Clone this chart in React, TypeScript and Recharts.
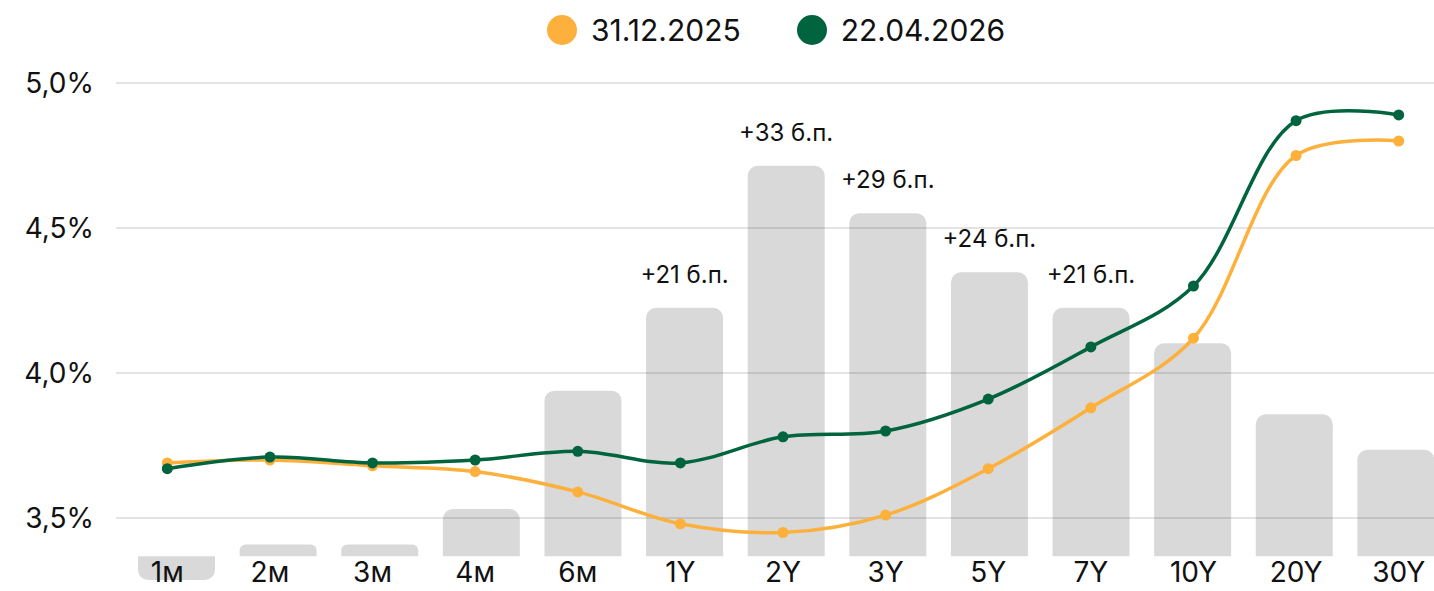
import { ComposedChart, Bar, Line, XAxis, YAxis, CartesianGrid, Legend, LabelList } from 'recharts';

const terms = ['1м', '2м', '3м', '4м', '6м', '1Y', '2Y', '3Y', '5Y', '7Y', '10Y', '20Y', '30Y'];
const ratesDec = [3.69, 3.7, 3.68, 3.66, 3.59, 3.48, 3.45, 3.51, 3.67, 3.88, 4.12, 4.75, 4.8];
const ratesApr = [3.67, 3.71, 3.69, 3.7, 3.73, 3.69, 3.78, 3.8, 3.91, 4.09, 4.3, 4.87, 4.89];
const spreadBp = [-2, 1, 1, 4, 14, 21, 33, 29, 24, 21, 18, 12, 9];
const spreadLabels = ['', '', '', '', '', '+21 б.п.', '+33 б.п.', '+29 б.п.', '+24 б.п.', '+21 б.п.', '', '', ''];
const rateTicks = [3.5, 4, 4.5, 5];

const seriesNames = ['31.12.2025', '22.04.2026'];
const ORANGE = '#FDB03B';
const GREEN = '#00643F';
const FONT = 'Inter, "Noto Sans", sans-serif';

const rows = terms.map((term, i) => ({
  term,
  dec: ratesDec[i],
  apr: ratesApr[i],
  spread: spreadBp[i],
}));

// centripetal catmull-rom (alpha 0.5), d3 curve factory interface
const smoothCurve = (context: any) => {
  let pts: [number, number][] = [];
  const dist = (a: [number, number], b: [number, number]) => Math.hypot(b[0] - a[0], b[1] - a[1]);
  return {
    areaStart() {},
    areaEnd() {},
    lineStart() {
      pts = [];
    },
    point(x: number, y: number) {
      pts.push([+x, +y]);
    },
    lineEnd() {
      const n = pts.length;
      if (!n) return;
      context.moveTo(pts[0][0], pts[0][1]);
      for (let i = 0; i < n - 1; i++) {
        const p0 = i > 0 ? pts[i - 1] : null;
        const p1 = pts[i];
        const p2 = pts[i + 1];
        const p3 = i + 2 < n ? pts[i + 2] : null;
        const l12_2a = dist(p1, p2);
        const l12_a = Math.sqrt(l12_2a);
        let c1: [number, number] = [p1[0], p1[1]];
        let c2: [number, number] = [p2[0], p2[1]];
        if (p0) {
          const l01_2a = dist(p0, p1);
          const l01_a = Math.sqrt(l01_2a);
          if (l01_a > 1e-6) {
            const a = 2 * l01_2a + 3 * l01_a * l12_a + l12_2a;
            const m = 3 * l01_a * (l01_a + l12_a);
            c1 = [
              (p1[0] * a - p0[0] * l12_2a + p2[0] * l01_2a) / m,
              (p1[1] * a - p0[1] * l12_2a + p2[1] * l01_2a) / m,
            ];
          }
        }
        if (p3) {
          const l23_2a = dist(p2, p3);
          const l23_a = Math.sqrt(l23_2a);
          if (l23_a > 1e-6) {
            const b = 2 * l23_2a + 3 * l23_a * l12_a + l12_2a;
            const m = 3 * l23_a * (l23_a + l12_a);
            c2 = [
              (p2[0] * b + p1[0] * l23_2a - p3[0] * l12_2a) / m,
              (p2[1] * b + p1[1] * l23_2a - p3[1] * l12_2a) / m,
            ];
          }
        }
        context.bezierCurveTo(c1[0], c1[1], c2[0], c2[1], p2[0], p2[1]);
      }
    },
  };
};

function LegendRow() {
  const colors = [ORANGE, GREEN];
  return (
    <div style={{ height: 83, position: 'relative', fontFamily: FONT }}>
      <div style={{ position: 'absolute', left: 547, top: 15, display: 'flex', alignItems: 'center' }}>
        {seriesNames.map((name, i) => (
          <div key={name} style={{ display: 'flex', alignItems: 'center', marginRight: 56 }}>
            <span style={{ width: 30, height: 30, borderRadius: 15, background: colors[i], display: 'inline-block' }} />
            <span style={{ marginLeft: 14, fontSize: 30, lineHeight: '30px', color: '#111' }}>{name}</span>
          </div>
        ))}
      </div>
    </div>
  );
}

function TermTick({ x, y, payload }: any) {
  return (
    <text x={x} y={y - 18} dy="0.71em" textAnchor="middle" fontSize={28} fill="#111" fontFamily={FONT}>
      {payload.value}
    </text>
  );
}

function SpreadLabel({ x, y, width, index }: any) {
  const text = spreadLabels[index];
  if (!text) return null;
  return (
    <text x={x + width / 2} y={y - 25} textAnchor="middle" fontSize={24} fill="#111" fontFamily={FONT}>
      {text}
    </text>
  );
}

export default function App() {
  return (
    <div
      style={{
        position: 'absolute',
        left: 0,
        top: 0,
        width: 1434,
        height: 591,
        overflow: 'hidden',
        background: '#fff',
        fontFamily: FONT,
      }}
    >
      <ComposedChart width={1451} height={591} data={rows} margin={{ top: 0, right: 1, bottom: 0, left: 0 }}>
        <CartesianGrid vertical={false} stroke="#c8c8c8" yAxisId="rate" xAxisId="line" syncWithTicks />
        <XAxis
          xAxisId="line"
          dataKey="term"
          axisLine={false}
          tickLine={false}
          tickSize={0}
          tickMargin={0}
          height={11}
          interval={0}
          tick={<TermTick />}
        />
        <XAxis xAxisId="bar" dataKey="term" orientation="top" height={0} hide padding={{ left: 10, right: 3 }} />
        <YAxis
          yAxisId="rate"
          type="number"
          domain={[3.2862, 5]}
          ticks={rateTicks}
          width={116}
          axisLine={false}
          tickLine={false}
          tickSize={0}
          tickMargin={22}
          tick={{ fontSize: 28, fill: '#111', fontFamily: FONT }}
          tickFormatter={(v: number) => v.toFixed(1).replace('.', ',') + '%'}
        />
        <YAxis yAxisId="bp" orientation="right" type="number" domain={[-2, 40]} hide />
        <Legend verticalAlign="top" align="left" wrapperStyle={{ left: 0, top: 0, width: 1451, height: 83 }} content={() => <LegendRow />} />
        <Bar
          xAxisId="bar"
          yAxisId="bp"
          dataKey="spread"
          barSize={77}
          fill="#000"
          fillOpacity={0.15}
          radius={[10, 10, 0, 0]}
          legendType="none"
          isAnimationActive={false}
        >
          <LabelList dataKey="spread" content={<SpreadLabel />} />
        </Bar>
        <Line
          xAxisId="line"
          yAxisId="rate"
          dataKey="dec"
          name={seriesNames[0]}
          type={smoothCurve as any}
          stroke={ORANGE}
          strokeWidth={3.5}
          dot={{ r: 5.5, fill: ORANGE, stroke: ORANGE, strokeWidth: 0 }}
          activeDot={false}
          isAnimationActive={false}
        />
        <Line
          xAxisId="line"
          yAxisId="rate"
          dataKey="apr"
          name={seriesNames[1]}
          type={smoothCurve as any}
          stroke={GREEN}
          strokeWidth={3.5}
          dot={{ r: 5.5, fill: GREEN, stroke: GREEN, strokeWidth: 0 }}
          activeDot={false}
          isAnimationActive={false}
        />
      </ComposedChart>
    </div>
  );
}
